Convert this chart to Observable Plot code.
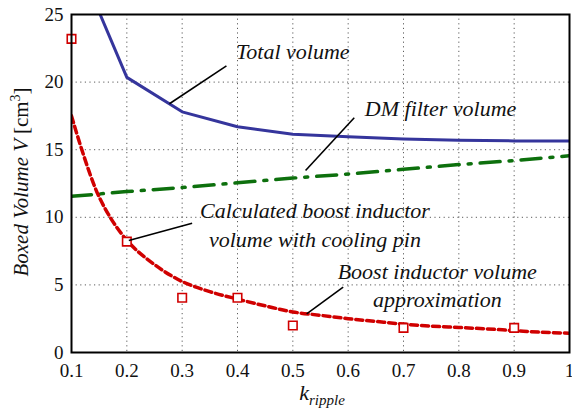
<!DOCTYPE html>
<html>
<head>
<meta charset="utf-8">
<script src="https://cdn.jsdelivr.net/npm/d3@7"></script>
<script src="https://cdn.jsdelivr.net/npm/@observablehq/plot@0.6"></script>
<style>
  html, body { margin: 0; padding: 0; background: #fff; }
  #chart svg { display: block; }
</style>
</head>
<body>
<div id="chart"></div>
<script>
// Ripple factor values (x) and volumes in cm³
const kTotal = [0.1, 0.2, 0.3, 0.4, 0.5, 0.6, 0.7, 0.8, 0.9, 1.0];
const vTotal = [30.0, 20.35, 17.8, 16.7, 16.15, 15.95, 15.8, 15.7, 15.65, 15.65];

const kFilter = [0.1, 0.2, 0.3, 0.4, 0.5, 0.6, 0.7, 0.8, 0.9, 1.0];
const vFilter = [11.55, 11.9, 12.2, 12.55, 12.9, 13.2, 13.55, 13.9, 14.2, 14.55];

const kApprox = [0.1, 0.15, 0.2, 0.25, 0.3, 0.35, 0.4, 0.45, 0.5, 0.55, 0.6, 0.65, 0.7, 0.75, 0.8, 0.85, 0.9, 0.95, 1.0];
const vApprox = [17.5, 11.5, 8.3, 6.5, 5.25, 4.5, 3.95, 3.45, 3.0, 2.75, 2.5, 2.3, 2.1, 1.95, 1.85, 1.75, 1.62, 1.5, 1.43];

const kCalc = [0.1, 0.2, 0.3, 0.4, 0.5, 0.7, 0.9];
const vCalc = [23.2, 8.2, 4.05, 4.05, 2.0, 1.82, 1.82];

const xTicks = [0.1, 0.2, 0.3, 0.4, 0.5, 0.6, 0.7, 0.8, 0.9, 1];
const yTicks = [0, 5, 10, 15, 20, 25];

// Single-line annotations (vertically centred on their anchor)
const labelText = ["Total volume", "DM filter volume"];
const labelX = [0.5, 0.767];
const labelY = [22.26, 18.05];
// Two-line annotations (anchored at their top)
const blockText = ["Calculated boost inductor\nvolume with cooling pin", "Boost inductor volume\napproximation"];
const blockX = [0.54, 0.761];
const blockY = [11.43, 6.97];
// Leader lines: text end -> curve point
const leadX1 = [0.380, 0.611, 0.318, 0.591];
const leadY1 = [21.2, 17.36, 9.56, 4.83];
const leadX2 = [0.277, 0.523, 0.2036, 0.525];
const leadY2 = [18.4, 13.46, 8.28, 2.86];

const serif = "'Times New Roman', Times, Tinos, 'Liberation Serif', 'Noto Serif', 'DejaVu Serif', serif";

const total = kTotal.map((k, i) => ({k, v: vTotal[i]}));
const filter = kFilter.map((k, i) => ({k, v: vFilter[i]}));
const approx = kApprox.map((k, i) => ({k, v: vApprox[i]}));
const calc = kCalc.map((k, i) => ({k, v: vCalc[i]}));
const labels = labelText.map((t, i) => ({t, x: labelX[i], y: labelY[i]}));
const blocks = blockText.map((t, i) => ({t, x: blockX[i], y: blockY[i]}));
const leads = leadX1.map((x1, i) => ({x1, y1: leadY1[i], x2: leadX2[i], y2: leadY2[i]}));

const chart = Plot.plot({
  width: 572,
  height: 411,
  marginLeft: 71,
  marginRight: 3,
  marginTop: 14,
  marginBottom: 59,
  style: {fontSize: "19px", fontFamily: serif, background: "#fff", color: "#111"},
  x: {domain: [0.1, 1]},
  y: {domain: [0, 25]},
  marks: [
    Plot.gridX(xTicks, {stroke: "#333", strokeOpacity: 0.8, strokeDasharray: "1.2,3.4", strokeWidth: 1}),
    Plot.gridY(yTicks, {stroke: "#333", strokeOpacity: 0.8, strokeDasharray: "1.2,3.4", strokeWidth: 1}),
    Plot.axisX(xTicks, {tickSize: 0, tickPadding: 11, tickFormat: d => String(d), fontSize: 19, label: null}),
    Plot.axisY(yTicks, {tickSize: 0, tickPadding: 8, fontSize: 19, label: null}),
    Plot.line(filter, {x: "k", y: "v", stroke: "#0d700d", strokeWidth: 3.5, strokeDasharray: "20,9,3,9", clip: true}),
    Plot.line(total, {x: "k", y: "v", stroke: "#35359c", strokeWidth: 3, clip: true}),
    Plot.line(approx, {x: "k", y: "v", curve: "catmull-rom", stroke: "#d00000", strokeWidth: 3.5, strokeDasharray: "7,4", clip: true}),
    Plot.dot(calc, {x: "k", y: "v", symbol: "square", r: 4.8, stroke: "#d00000", fill: "#fff", strokeWidth: 1.6}),
    Plot.link(leads, {x1: "x1", y1: "y1", x2: "x2", y2: "y2", stroke: "#000", strokeWidth: 1.6}),
    Plot.text(labels, {x: "x", y: "y", text: "t", lineAnchor: "middle", fontSize: 22, fontStyle: "italic", fill: "#111", textAnchor: "middle"}),
    Plot.text(blocks, {x: "x", y: "y", text: "t", lineAnchor: "top", fontSize: 22, fontStyle: "italic", lineHeight: 1.3, fill: "#111", textAnchor: "middle"}),
    Plot.frame({stroke: "#000", strokeWidth: 2})
  ]
});

// Axis titles with mixed italic / upright runs
const svg = d3.select(chart);
const xt = svg.append("text")
  .attr("x", 322).attr("y", 400)
  .attr("text-anchor", "middle")
  .attr("font-style", "italic").attr("font-size", 22).attr("fill", "#111");
xt.append("tspan").text("k");
xt.append("tspan").attr("dy", 5).attr("font-size", 15).text("ripple");

const yt = svg.append("text")
  .attr("transform", "translate(28,182) rotate(-90)")
  .attr("text-anchor", "middle")
  .attr("font-size", 21).attr("fill", "#111");
yt.append("tspan").attr("font-style", "italic").text("Boxed Volume V ");
yt.append("tspan").text("[cm");
yt.append("tspan").attr("dy", -8).attr("font-size", 14).text("3");
yt.append("tspan").attr("dy", 8).text("]");

document.getElementById("chart").appendChild(chart);
</script>
</body>
</html>
